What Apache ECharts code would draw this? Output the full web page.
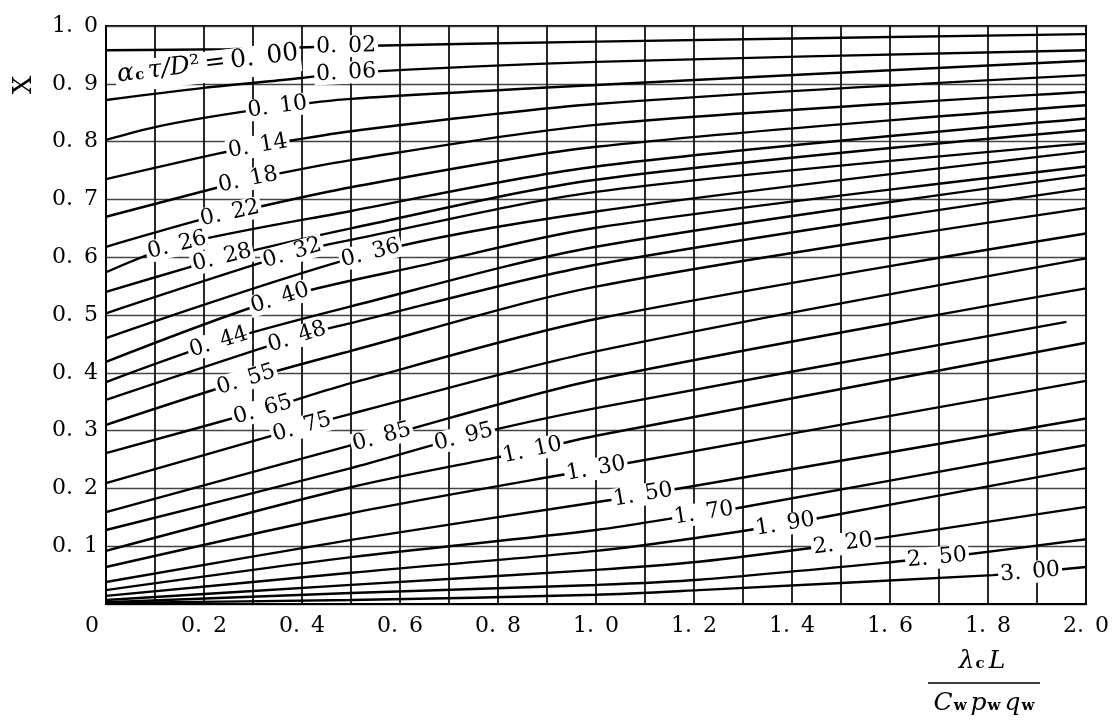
<!DOCTYPE html>
<html><head><meta charset="utf-8">
<script src="https://cdn.jsdelivr.net/npm/echarts@6/dist/echarts.min.js"></script>
<style>html,body{margin:0;padding:0;background:#fff}#c{width:1115px;height:723px}</style>
</head><body><div id="c"></div>
<script>
// curve parameter values (alpha_c * tau / D^2)
const tauLabels = ['0.02','0.06','0.10','0.14','0.18','0.22','0.26','0.28','0.32','0.36','0.40','0.44','0.48','0.55','0.65','0.75','0.85','0.95','1.10','1.30','1.50','1.70','1.90','2.20','2.50','3.00'];

// [lambda_c L / (Cw pw qw), X]
const c002 = [[0,0.958],[0.25,0.960],[0.49,0.965],[1.0,0.973],[2.0,0.986]];
const c006 = [[0,0.872],[0.2,0.893],[0.4,0.910],[0.49,0.919],[1.0,0.938],[2.0,0.958]];
const c010 = [[0,0.803],[0.1,0.825],[0.2,0.841],[0.35,0.860],[0.5,0.874],[1.0,0.898],[2.0,0.940]];
const c014 = [[0,0.735],[0.233,0.780],[0.31,0.792],[0.5,0.818],[1.0,0.865],[2.0,0.915]];
const c018 = [[0,0.670],[0.23,0.721],[0.29,0.734],[0.5,0.768],[1.0,0.829],[2.0,0.886]];
const c022 = [[0,0.618],[0.19,0.664],[0.253,0.676],[0.5,0.721],[1.0,0.791],[2.0,0.863]];
const c026 = [[0,0.574],[0.145,0.621],[0.5,0.680],[1.0,0.757],[2.0,0.840]];
const c028 = [[0,0.540],[0.171,0.583],[0.237,0.599],[0.5,0.650],[1.0,0.734],[2.0,0.820]];
const c032 = [[0,0.503],[0.38,0.607],[0.5,0.630],[1.0,0.713],[2.0,0.797]];
const c036 = [[0,0.460],[0.54,0.607],[1.0,0.679],[2.0,0.783]];
const c040 = [[0,0.419],[0.355,0.529],[0.64,0.585],[1.0,0.651],[2.0,0.757]];
const c044 = [[0,0.384],[0.23,0.453],[0.5,0.515],[1.0,0.618],[2.0,0.742]];
const c048 = [[0,0.353],[0.39,0.462],[0.5,0.486],[1.0,0.587],[2.0,0.719]];
const c055 = [[0,0.310],[0.286,0.388],[0.5,0.438],[1.0,0.549],[2.0,0.685]];
const c065 = [[0,0.261],[0.32,0.336],[0.5,0.382],[1.0,0.493],[2.0,0.641]];
const c075 = [[0,0.209],[0.40,0.306],[0.5,0.329],[1.0,0.437],[2.0,0.598]];
const c085 = [[0,0.159],[0.563,0.289],[1.0,0.388],[2.0,0.546]];
const c095 = [[0,0.128],[0.5,0.235],[0.73,0.289],[1.0,0.339],[1.96,0.488]];
const c110 = [[0,0.092],[0.5,0.202],[0.8,0.254],[0.87,0.266],[1.0,0.291],[2.0,0.452]];
const c130 = [[0,0.064],[0.5,0.157],[1.0,0.234],[2.0,0.386]];
const c150 = [[0,0.038],[0.5,0.111],[1.0,0.176],[1.096,0.189],[2.0,0.321]];
const c170 = [[0,0.024],[0.5,0.081],[1.0,0.128],[1.22,0.157],[1.29,0.166],[2.0,0.275]];
const c190 = [[0,0.014],[0.5,0.054],[1.0,0.092],[1.21,0.115],[1.386,0.138],[1.45,0.148],[2.0,0.235]];
const c220 = [[0,0.007],[0.5,0.033],[1.0,0.059],[1.21,0.073],[1.504,0.104],[1.58,0.114],[2.0,0.168]];
const c250 = [[0,0.003],[0.5,0.019],[1.0,0.033],[1.21,0.042],[1.696,0.080],[1.76,0.086],[2.0,0.112]];
const c300 = [[0,0.002],[0.5,0.007],[1.0,0.016],[1.21,0.024],[1.81,0.050],[1.886,0.055],[2.0,0.064]];

const curves = [c002,c006,c010,c014,c018,c022,c026,c028,c032,c036,c040,c044,c048,c055,c065,c075,c085,c095,c110,c130,c150,c170,c190,c220,c250,c300];
// x at which each curve carries its label
const labelAtX = [0.49,0.49,0.35,0.31,0.29,0.253,0.145,0.237,0.38,0.54,0.355,0.23,0.39,0.286,0.32,0.40,0.563,0.73,0.87,1.0,1.096,1.22,1.386,1.504,1.696,1.886];

const xTickLabels = ['0','','0.2','','0.4','','0.6','','0.8','','1.0','','1.2','','1.4','','1.6','','1.8','','2.0'];
const yTickLabels = ['','0.1','0.2','0.3','0.4','0.5','0.6','0.7','0.8','0.9','1.0'];

const SERIF = 'DejaVu Serif';
const sp = s => s.replace('.', '.\u2002');

const chart = echarts.init(document.getElementById('c'), null, {renderer: 'canvas'});

function buildSeries(rot) {
  return curves.map((pts, i) => ({
    type: 'line',
    name: tauLabels[i],
    data: pts.map((p, k) => p[0] === labelAtX[i]
      ? {value: p, label: {show: true, rotate: rot ? rot[i] : 0}}
      : {value: p}),
    symbol: 'circle', symbolSize: 0.01, showSymbol: true, showAllSymbol: true,
    itemStyle: {color: 'transparent'},
    smooth: 0.3,
    lineStyle: {color: '#000', width: 2.4},
    label: {show: false, position: 'inside', formatter: () => sp(tauLabels[i]),
      fontFamily: SERIF, fontSize: 22, color: '#000', backgroundColor: '#fff', padding: [0, 2]},
    emphasis: {disabled: true}, silent: true, animation: false, z: 3
  }));
}

const rich = {
  i: {fontFamily: SERIF, fontStyle: 'italic', fontSize: 25, fill: '#000', padding: [0, 0, 6, 0]},
  s: {fontFamily: SERIF, fontSize: 15, fill: '#000', fontWeight: 'bold', padding: [0, 4, 0, 1]},
  n: {fontFamily: SERIF, fontSize: 25, fill: '#000', padding: [0, 0, 6, 0]}
};

const option = {
  backgroundColor: '#fff',
  animation: false,
  grid: {left: 106, right: 29, top: 26, bottom: 119, show: true, borderColor: '#000', borderWidth: 2},
  xAxis: {
    type: 'value', min: 0, max: 2, interval: 0.1,
    axisLine: {show: true, lineStyle: {color: '#000', width: 2}},
    axisTick: {show: false},
    splitLine: {show: true, lineStyle: {color: '#111', width: 1.8}},
    axisLabel: {
      margin: 11, color: '#000', fontFamily: SERIF, fontSize: 22,
      showMinLabel: true, showMaxLabel: true,
      formatter: v => { const t = xTickLabels[Math.round(v * 10)]; return t === '0' ? '{z|0}' : sp(t || ''); },
      rich: {z: {fontFamily: SERIF, fontSize: 22, color: '#000', padding: [0, 28, 0, 0]}}
    }
  },
  yAxis: {
    type: 'value', min: 0, max: 1, interval: 0.1,
    axisLine: {show: true, lineStyle: {color: '#000', width: 2}},
    axisTick: {show: false},
    splitLine: {show: true, lineStyle: {color: '#444', width: 1.4}},
    axisLabel: {
      margin: 8, color: '#000', fontFamily: SERIF, fontSize: 22,
      formatter: v => sp(yTickLabels[Math.round(v * 10)] || '')
    }
  },
  graphic: [
    {type: 'text', x: 208, y: 67, rotation: 7 * Math.PI / 180, z: 100,
      style: {text: '{i|α}{s|c}{i|τ/D}{n|²\u2009=\u20090.\u200200}', rich: rich,
        align: 'center', verticalAlign: 'middle', backgroundColor: '#fff', padding: [0, 2]}},
    {type: 'text', x: 24, y: 85, rotation: Math.PI / 2, z: 100,
      style: {text: 'X', fontFamily: SERIF, fontSize: 26, fill: '#000', align: 'center', verticalAlign: 'middle'}},
    {type: 'text', x: 982, y: 664, z: 100,
      style: {text: '{i|λ}{s|c}{i|L}', rich: rich, align: 'center', verticalAlign: 'middle'}},
    {type: 'line', z: 100, shape: {x1: 928, y1: 683, x2: 1040, y2: 683}, style: {stroke: '#000', lineWidth: 1.5}},
    {type: 'text', x: 986, y: 706, z: 100,
      style: {text: '{i|C}{s|w}{i|p}{s|w}{i|q}{s|w}', rich: rich, align: 'center', verticalAlign: 'middle'}}
  ],
  series: buildSeries(null)
};

chart.setOption(option);

// label rotation follows the local direction of each curve
const rot = curves.map((pts, i) => {
  const k = pts.findIndex(p => p[0] === labelAtX[i]);
  const a = chart.convertToPixel({gridIndex: 0}, pts[Math.max(0, k - 1)]);
  const b = chart.convertToPixel({gridIndex: 0}, pts[Math.min(pts.length - 1, k + 1)]);
  return Math.atan2(a[1] - b[1], b[0] - a[0]) * 180 / Math.PI;
});
chart.setOption({series: buildSeries(rot)});
</script>
</body></html>
